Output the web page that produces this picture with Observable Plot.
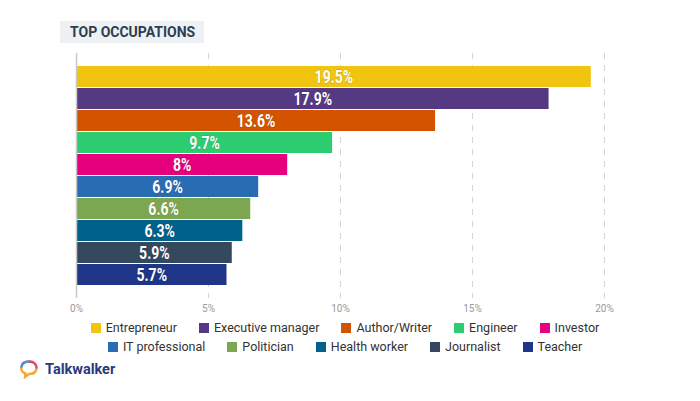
<!DOCTYPE html>
<html>
<head>
<meta charset="utf-8">
<script src="https://cdn.jsdelivr.net/npm/d3@7"></script>
<script src="https://cdn.jsdelivr.net/npm/@observablehq/plot@0.6"></script>
<style>
  html, body { margin: 0; padding: 0; background: #fff; }
  #wrap { position: relative; width: 700px; height: 401px; overflow: hidden; font-family: Roboto, "Noto Sans", sans-serif; }
  #title { position: absolute; left: 60px; top: 21px; height: 22px; line-height: 22px; padding: 0 9px 0 10px; background: #eef1f4; color: #2c3e50; font-weight: 700; font-size: 14px; }
  #chart { position: absolute; left: 0; top: 0; }
  #legend { position: absolute; left: 80px; top: 320px; width: 530px; display: flex; flex-wrap: wrap; justify-content: center; column-gap: 22px; row-gap: 4px; font-size: 12.5px; color: #333; }
  .item { display: flex; align-items: center; gap: 5px; line-height: 15px; }
  .sw { width: 10px; height: 10px; display: inline-block; }
  #logo { position: absolute; left: 19px; top: 359px; display: flex; align-items: center; gap: 6px; font-weight: 700; font-size: 14.5px; color: #2b3a7c; }
</style>
</head>
<body>
<div id="wrap">
  <div id="chart"></div>
  <div id="title">TOP OCCUPATIONS</div>
  <div id="legend"></div>
  <div id="logo">
    <svg width="20" height="20" viewBox="0 0 20 20">
      <path d="M10 2.5 C15 2.5 18 5.5 17.5 9.5 C17 13.5 13.5 15 10 15 L6 18 L6.5 14.5 C3.5 13.5 2 11.5 2.3 8.5 C2.7 4.8 5.5 2.5 10 2.5 Z" fill="none" stroke="#f3a83b" stroke-width="2.4"/>
      <path d="M10 2.5 C15 2.5 18 5.5 17.5 9.5" fill="none" stroke="#e0457b" stroke-width="2.4"/>
      <path d="M2.3 8.5 C2.7 4.8 5.5 2.5 10 2.5" fill="none" stroke="#4a90d9" stroke-width="2.4"/>
    </svg>
    <span>Talkwalker</span>
  </div>
</div>
<script>
const categories = ["Entrepreneur", "Executive manager", "Author/Writer", "Engineer", "Investor", "IT professional", "Politician", "Health worker", "Journalist", "Teacher"];
const values = [19.5, 17.9, 13.6, 9.7, 8, 6.9, 6.6, 6.3, 5.9, 5.7];
const colors = ["#f1c40f", "#553982", "#d35400", "#2ecc71", "#e6007e", "#2a6cb3", "#7ca750", "#00628b", "#34495e", "#1f3587"];
const tickValues = [0, 5, 10, 15, 20];

const data = categories.map((c, i) => ({category: c, value: values[i]}));

const plot = Plot.plot({
  width: 700,
  height: 320,
  marginLeft: 76,
  marginRight: 96,
  marginTop: 53,
  marginBottom: 22,
  x: {domain: [0, 20], ticks: tickValues},
  y: {domain: categories, paddingInner: 0.05, paddingOuter: 0.55, axis: null},
  color: {domain: categories, range: colors},
  style: {fontFamily: "Roboto, sans-serif"},
  marks: [
    Plot.ruleX(tickValues.filter(d => d > 0), {stroke: "#d5d5d5", strokeWidth: 1, strokeDasharray: "6,6"}),
    Plot.barX(data, {y: "category", x: "value", fill: "category"}),
    Plot.ruleX([0], {stroke: "#c8c8c8", strokeWidth: 1.5}),
    Plot.text(data, {
      y: "category", x: d => d.value / 2, text: d => d.value + "%",
      fill: "white", fontSize: 18, fontWeight: "bold",
      fontFamily: "Roboto, sans-serif",
      stroke: "rgba(0,0,0,0.12)", strokeWidth: 1.5
    }),
    Plot.axisX({ticks: tickValues, tickFormat: d => d + "%", tickSize: 0, tickPadding: 6, fontSize: 10, color: "#9a9a9a", label: null})
  ]
});

// condense bar labels horizontally
d3.select(plot).selectAll("g[aria-label='text'] text").each(function() {
  const el = d3.select(this);
  let x = +el.attr("x") || 0, y = +el.attr("y") || 0;
  const tr = el.attr("transform");
  if (tr) {
    const m = /translate\(([-\d.]+)[ ,]+([-\d.]+)\)/.exec(tr);
    if (m) { x += +m[1]; y += +m[2]; }
  }
  el.attr("x", null).attr("y", null).attr("dy", "0.36em")
    .attr("transform", `translate(${x},${y}) scale(0.78,1)`);
});
document.getElementById("chart").appendChild(plot);

const legend = document.getElementById("legend");
categories.forEach((c, i) => {
  const it = document.createElement("div");
  it.className = "item";
  const sw = document.createElement("span");
  sw.className = "sw";
  sw.style.background = colors[i];
  const t = document.createElement("span");
  t.textContent = c;
  it.appendChild(sw);
  it.appendChild(t);
  legend.appendChild(it);
});
</script>
</body>
</html>
